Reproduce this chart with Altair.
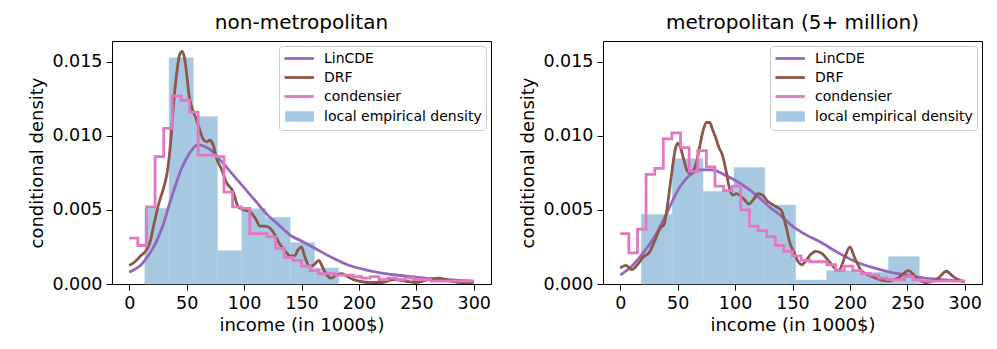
import altair as alt
import pandas as pd

# ---------------- data ----------------
SERIES = ["LinCDE", "DRF", "condensier", "local empirical density"]
COLORS = ["#9467bd", "#8c564b", "#e377c2", "#a6c8e0"]

# condensier step edges (40 bins over 0..300)
cond_edges = [0, 7.5, 15, 22.5, 30, 37.5, 45, 52.5, 60, 67.5, 75, 82.5, 90, 97.5,
              105, 112.5, 120, 127.5, 135, 142.5, 150, 157.5, 165, 172.5, 180,
              187.5, 195, 202.5, 210, 217.5, 225, 232.5, 240, 247.5, 255, 262.5,
              270, 277.5, 285, 292.5, 300]

# ---- non-metropolitan ----
nm_hist_edges = [13.6, 34.7, 55.8, 76.9, 98.0, 119.1, 140.2, 161.3, 182.4]
nm_hist_dens = [0.00512, 0.01527, 0.0113, 0.00225, 0.00508, 0.0045, 0.0028, 0.00108]

nm_lincde_x = [0, 5, 10, 15, 20, 25, 30, 35, 40, 45, 50, 55, 60, 65, 70, 80, 90, 100,
               110, 120, 130, 140, 150, 162, 176, 190, 205, 220, 234, 249, 263, 278, 300]
nm_lincde_y = [0.00079, 0.00100, 0.00126, 0.00176, 0.00232, 0.0031, 0.0041, 0.0054,
               0.0066, 0.0077, 0.0085, 0.0091, 0.0094, 0.0093, 0.0091, 0.0083, 0.0074,
               0.0065, 0.0056, 0.0047, 0.0040, 0.0033, 0.0029, 0.0024, 0.0018, 0.0013,
               0.00097, 0.00074, 0.00059, 0.00047, 0.00036, 0.00029, 0.0002]

nm_drf_x = [0, 5, 10, 15, 18, 22, 26, 30, 33, 36, 39, 42, 44, 46, 48, 50, 52, 55, 58,
            61, 65, 68, 70, 73, 76, 80, 85, 90, 95, 100, 105, 110, 114, 118, 122, 127,
            131, 136, 140, 144, 147, 150, 153, 157, 161, 165, 168, 172, 176, 180, 185,
            190, 195, 200, 210, 220, 230, 240, 250, 260, 270, 280, 290, 300]
nm_drf_y = [0.00125, 0.0015, 0.0019, 0.0023, 0.0028, 0.0042, 0.0055, 0.0065, 0.0075,
            0.0095, 0.0125, 0.0146, 0.0155, 0.0157, 0.0153, 0.0142, 0.0128, 0.0118,
            0.0112, 0.0105, 0.0097, 0.0096, 0.0097, 0.0094, 0.0085, 0.0078, 0.0068,
            0.0063, 0.0052, 0.0050, 0.0049, 0.0044, 0.0039, 0.0039, 0.0038, 0.0033,
            0.0027, 0.0022, 0.0019, 0.0019, 0.0023, 0.0025, 0.0018, 0.0012, 0.0013,
            0.0016, 0.0012, 0.0006, 0.0004, 0.0006, 0.0007, 0.0005, 0.0003, 0.0002,
            0.0001, 0.0001, 0.0003, 0.0002, 0.0001, 0.0003, 0.0004, 0.0002, 0.0001, 0.0001]

nm_cond = [0.0031, 0.0026, 0.0052, 0.0086, 0.0105, 0.0127, 0.0124, 0.0116, 0.0087,
           0.0087, 0.0086, 0.0062, 0.0052, 0.0051, 0.0034, 0.0034, 0.0032, 0.0024,
           0.0018, 0.0016, 0.0012, 0.0009, 0.0007, 0.0007, 0.0006, 0.0006, 0.0005,
           0.0004, 0.0005, 0.0003, 0.0004, 0.0003, 0.0004, 0.0003, 0.0003, 0.0002,
           0.0002, 0.0002, 0.0002, 0.0002]

# ---- metropolitan (5+ million) ----
m_hist_edges = [18.3, 45.2, 72.1, 99.0, 125.9, 152.8, 179.7, 206.6, 233.5, 260.4]
m_hist_dens = [0.0047, 0.00846, 0.00626, 0.00786, 0.00533, 0.00027, 0.0009, 0.0008, 0.00185]

m_lincde_x = [0, 10, 20, 30, 40, 50, 60, 70, 80, 90, 100, 110, 120, 130, 140, 150, 160,
              175, 190, 205, 220, 235, 250, 265, 280, 300]
m_lincde_y = [0.0006, 0.0012, 0.0021, 0.0032, 0.0047, 0.0063, 0.0073, 0.0077, 0.0077,
              0.0074, 0.0070, 0.0065, 0.0059, 0.0052, 0.0046, 0.0039, 0.0034, 0.0028,
              0.0021, 0.0015, 0.0011, 0.0008, 0.0006, 0.0004, 0.0003, 0.0002]

m_drf_x = [0, 5, 10, 15, 20, 25, 30, 35, 38, 40, 42, 45, 48, 50, 52, 55, 58, 60, 63, 66,
           69, 72, 75, 78, 80, 83, 86, 89, 92, 95, 98, 101, 104, 108, 112, 116, 120, 124,
           128, 132, 136, 140, 144, 148, 151, 155, 158, 162, 166, 170, 175, 182, 190,
           196, 200, 204, 210, 219, 233, 242, 251, 257, 265, 277, 284, 290, 297, 300]
m_drf_y = [0.00108, 0.00126, 0.00097, 0.0013, 0.00182, 0.0021, 0.0029, 0.0038, 0.0040,
           0.0047, 0.0058, 0.0076, 0.0091, 0.0095, 0.0093, 0.0085, 0.0077, 0.0075,
           0.0076, 0.0081, 0.0092, 0.0103, 0.0109, 0.0109, 0.0105, 0.0099, 0.0092,
           0.0087, 0.0077, 0.0065, 0.0060, 0.0061, 0.0060, 0.0057, 0.0054, 0.0057,
           0.0061, 0.0060, 0.0056, 0.0054, 0.0052, 0.0050, 0.0040, 0.0027, 0.0022,
           0.0015, 0.0013, 0.0016, 0.0020, 0.0022, 0.0021, 0.0015, 0.0009, 0.0019,
           0.0025, 0.0018, 0.0009, 0.0005, 0.0002, 0.0004, 0.0009, 0.0005, 0.0001,
           0.0004, 0.00086, 0.0005, 0.0002, 0.00013]

m_cond = [0.0034, 0.0021, 0.0037, 0.0074, 0.0078, 0.0098, 0.0102, 0.0092, 0.0076,
          0.0090, 0.0079, 0.0066, 0.0063, 0.0066, 0.0050, 0.0039, 0.0036, 0.0032,
          0.0026, 0.0022, 0.0019, 0.0016, 0.0015, 0.0015, 0.0013, 0.0009, 0.0012,
          0.0009, 0.0007, 0.0006, 0.0004, 0.0003, 0.0003, 0.0005, 0.0003, 0.0002,
          0.0002, 0.0002, 0.0002, 0.0002]

TITLES = ["non-metropolitan", "metropolitan (5+ million)"]

# ---------------- chart ----------------
FONT = "DejaVu Sans"
LW = 2.8
LINE_SHAPE = "M-1,0H3.2"
PATCH_SHAPE = "M-0.7,-0.55H3.0V0.55H-0.7Z"

X_SCALE = alt.Scale(domain=[-15, 315], nice=False, zero=False)
Y_SCALE = alt.Scale(domain=[0, 0.0164], nice=False, zero=False)
X_AXIS = alt.Axis(values=[0, 50, 100, 150, 200, 250, 300], title="income (in 1000$)")
Y_AXIS = alt.Axis(values=[0, 0.005, 0.010, 0.015], format=".3f", title="conditional density")


def xenc(field):
    return alt.X(f"{field}:Q", scale=X_SCALE, axis=X_AXIS)


def yenc(field):
    return alt.Y(f"{field}:Q", scale=Y_SCALE, axis=Y_AXIS)


def panel(title, hist_edges, hist_dens, lx, ly, dx, dy, cond):
    hist_df = pd.DataFrame({"x0": hist_edges[:-1], "x1": hist_edges[1:], "d": hist_dens})
    hist = alt.Chart(hist_df).mark_rect(color=COLORS[3], stroke="#b5d3e8",
                                        strokeWidth=0.5).encode(
        x=xenc("x0"), x2="x1", y=yenc("d"), y2=alt.datum(0))

    lin_df = pd.DataFrame({"x": lx, "d": ly})
    lin = alt.Chart(lin_df).mark_line(color=COLORS[0], strokeWidth=LW,
                                      interpolate="monotone").encode(
        x=xenc("x"), y=yenc("d"))

    drf_df = pd.DataFrame({"x": dx, "d": dy})
    drf = alt.Chart(drf_df).mark_line(color=COLORS[1], strokeWidth=LW,
                                      interpolate="monotone").encode(
        x=xenc("x"), y=yenc("d"))

    cond_df = pd.DataFrame({"x": cond_edges, "d": cond + [cond[-1]]})
    cnd = alt.Chart(cond_df).mark_line(color=COLORS[2], strokeWidth=LW,
                                       interpolate="step-after").encode(
        x=xenc("x"), y=yenc("d"))

    leg = alt.Legend(title=None, orient="top-right", offset=5, padding=4,
                     strokeColor="#cccccc", cornerRadius=3, fillColor="white",
                     labelFontSize=14, labelFont=FONT, labelColor="black",
                     symbolSize=196, symbolStrokeWidth=LW, labelOffset=24,
                     rowPadding=3, labelLimit=400, symbolOpacity=1)
    leg_df = pd.DataFrame({"series": pd.Series([], dtype=str)})
    legend_layer = alt.Chart(leg_df).mark_point(filled=True).encode(
        fill=alt.Fill("series:N", scale=alt.Scale(domain=SERIES, range=COLORS), legend=leg),
        stroke=alt.Stroke("series:N", scale=alt.Scale(domain=SERIES, range=COLORS), legend=leg),
        shape=alt.Shape("series:N", scale=alt.Scale(
            domain=SERIES, range=[LINE_SHAPE, LINE_SHAPE, LINE_SHAPE, PATCH_SHAPE]), legend=leg),
    )

    return alt.layer(hist, lin, drf, cnd, legend_layer).properties(
        width=379, height=243,
        title=alt.TitleParams(title, fontSize=20, font=FONT, fontWeight="normal",
                              color="black", offset=8, anchor="middle"))


left = panel(TITLES[0], nm_hist_edges, nm_hist_dens, nm_lincde_x, nm_lincde_y,
             nm_drf_x, nm_drf_y, nm_cond)
right = panel(TITLES[1], m_hist_edges, m_hist_dens, m_lincde_x, m_lincde_y,
              m_drf_x, m_drf_y, m_cond)

chart = alt.hconcat(left, right, spacing=27).resolve_scale(
    fill="independent", stroke="independent", shape="independent"
).resolve_legend(
    fill="independent", stroke="independent", shape="independent"
).properties(
    padding={"left": 20, "top": 4, "right": 5, "bottom": 5}
).configure(font=FONT).configure_view(
    stroke="black", strokeWidth=1
).configure_axis(
    grid=False, domain=False, tickColor="black", tickSize=6, tickWidth=1,
    labelFont=FONT, labelFontSize=17.5, labelColor="black", labelPadding=4,
    titleFont=FONT, titleFontSize=18, titleFontWeight="normal", titleColor="black",
    titlePadding=5
)

chart.save("out.html", embed_options={"renderer": "svg", "actions": False})
